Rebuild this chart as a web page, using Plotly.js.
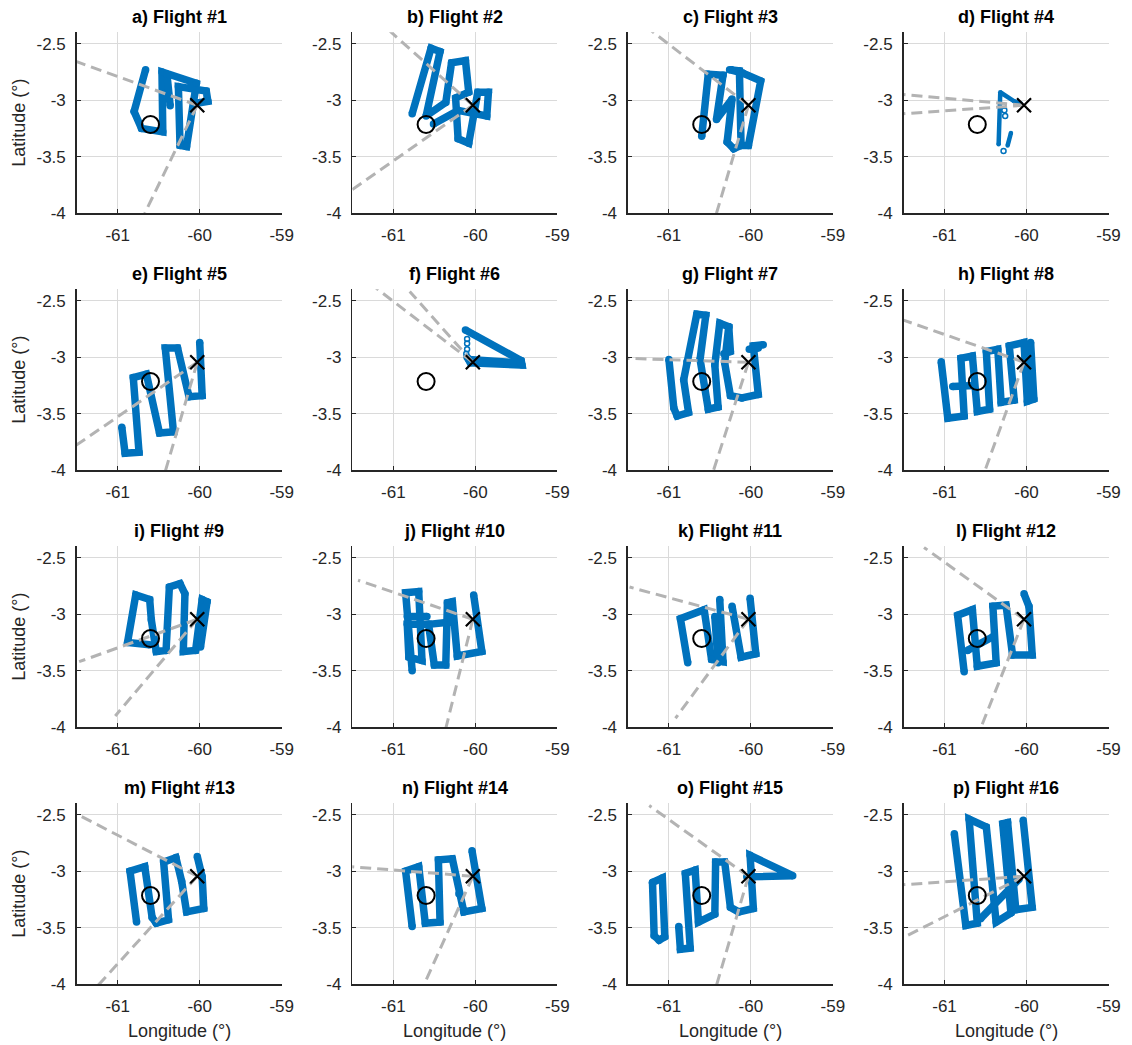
<!DOCTYPE html>
<html>
<head>
<meta charset="utf-8">
<script src="https://cdn.plot.ly/plotly-3.0.1.min.js"></script>
<style>
  html, body { margin: 0; padding: 0; background: #ffffff; }
  #chart { width: 1132px; height: 1045px; }
</style>
</head>
<body>
<div id="chart"></div>
<script>
// Aircraft tracks, longitude / latitude in degrees; null splits a track into pieces
const f1Lon = [-60.66, -60.80, -60.71, -60.45, -60.46, -60.04, -60.16, -60.24, -60.26, -59.92, -59.90, -60.06, null, -60.40, -60.36];
const f1Lat = [-2.73, -3.10, -3.25, -3.28, -2.75, -2.85, -3.41, -3.40, -2.88, -2.92, -3.01, -3.03, null, -2.77, -3.05];

const f2Lon = [-60.77, -60.54, -60.43, -60.60, -60.36, -60.29, -60.12, -60.08, -60.24, -60.21, -60.08, -59.97, -59.84, -59.86, -60.21, -60.51];
const f2Lat = [-3.12, -2.54, -2.57, -3.14, -3.02, -2.67, -2.65, -2.93, -2.98, -3.34, -3.38, -2.93, -2.93, -3.14, -3.09, -3.21];

const f3Lon = [-60.60, -60.52, -60.34, -60.42, -60.23, -60.29, -60.21, -60.12, -60.14, -60.26, -60.10, -59.88, -60.03, -60.12];
const f3Lat = [-3.32, -2.77, -2.78, -3.17, -2.99, -3.37, -3.43, -3.40, -2.74, -2.73, -2.76, -2.83, -3.40, -3.40];

const f4Lon = [-60.34, -60.32, -60.15, -60.07, null, -60.19, -60.23];
const f4Lat = [-3.39, -2.93, -3.01, -3.03, null, -3.29, -3.40];
const f4DotLon = [-60.28, -60.27, -60.26, -60.28];
const f4DotLat = [-3.05, -3.09, -3.14, -3.45];

const f5Lon = [-60.95, -60.91, -60.74, -60.81, -60.65, -60.49, -60.32, -60.42, -60.27, -60.13, -59.97, -60.00];
const f5Lat = [-3.62, -3.85, -3.84, -3.18, -3.15, -3.67, -3.66, -2.92, -2.92, -3.35, -3.34, -2.87];

const f6Lon = [-60.12, -59.44, -59.43, -60.06, -60.10, null, -60.08, -59.45];
const f6Lat = [-2.76, -3.03, -3.07, -3.05, -3.00, null, -3.02, -3.05];
const f6DotLon = [-60.10, -60.10, -60.10, -60.11];
const f6DotLat = [-2.84, -2.88, -2.93, -2.97];

const f7Lon = [-61.00, -60.94, -60.90, -60.76, -60.82, -60.78, -60.66, -60.55, -60.62, -60.52, -60.40, -60.44, -60.38, -60.27, -60.32, -60.25, -60.11, -59.91, -59.97, -59.85, null, -60.27, -60.25, -60.33, null, -60.02, -59.91];
const f7Lat = [-3.02, -3.45, -3.52, -3.49, -3.20, -3.04, -2.62, -2.63, -3.02, -3.46, -3.44, -3.07, -2.70, -2.73, -3.05, -3.34, -3.36, -3.33, -2.90, -2.89, null, -2.73, -2.95, -2.97, null, -2.93, -2.92];

const f8Lon = [-61.04, -60.96, -60.76, -60.80, -60.66, -60.60, -60.45, -60.49, -60.35, -60.31, -60.15, -60.21, -60.03, -59.99, -59.91, -59.95, null, -60.90, -60.64];
const f8Lat = [-3.04, -3.54, -3.52, -3.01, -2.99, -3.48, -3.46, -2.95, -2.93, -3.40, -3.38, -2.90, -2.87, -3.39, -3.37, -2.87, null, -3.26, -3.25];

const f9Lon = [-60.61, -60.88, -60.78, -60.61, -60.59, -60.53, -60.41, -60.37, -60.24, -60.18, -60.20, -60.05, -59.97, -59.91, -59.99];
const f9Lat = [-3.27, -3.25, -2.83, -2.87, -3.05, -3.33, -3.32, -2.76, -2.73, -2.82, -3.33, -3.32, -2.87, -2.89, -3.29];

const f10Lon = [-60.77, -60.85, -60.69, -60.65, -60.81, -60.83, -60.57, -60.50, -60.36, -60.34, -60.28, -60.22, -59.92, -60.02, null, -60.83, -60.59, null, -60.57, -60.30];
const f10Lat = [-3.50, -2.81, -2.80, -3.41, -3.38, -3.09, -3.09, -3.45, -3.45, -2.90, -2.89, -3.37, -3.33, -2.83, null, -3.02, -3.02, null, -3.09, -3.07];

const f11Lon = [-60.77, -60.86, -60.57, -60.48, -60.34, -60.38, null, -60.44, -60.40, null, -60.23, -60.12, -59.94, -60.01];
const f11Lat = [-3.43, -3.04, -2.96, -3.40, -3.42, -2.87, null, -3.02, -3.43, null, -2.93, -3.38, -3.35, -2.86];

const f12Lon = [-60.76, -60.84, -60.66, -60.60, -60.37, -60.41, -60.25, -60.17, -59.93, -59.97, -60.03, null, -60.72, -60.41];
const f12Lat = [-3.51, -3.01, -2.96, -3.46, -3.43, -2.93, -2.92, -3.36, -3.36, -2.93, -2.82, null, -3.32, -3.20];

const f13Lon = [-60.77, -60.85, -60.67, -60.58, -60.53, -60.38, -60.44, -60.29, -60.22, -60.16, -59.95, -59.97, -60.03];
const f13Lat = [-3.45, -3.00, -2.96, -3.41, -3.46, -3.43, -2.92, -2.88, -3.09, -3.36, -3.33, -3.05, -2.87];

const f14Lon = [-60.77, -60.85, -60.69, -60.61, -60.43, -60.45, -60.28, -60.20, -60.14, -59.92, -60.04];
const f14Lat = [-3.49, -3.00, -2.96, -3.46, -3.45, -2.90, -2.89, -3.20, -3.36, -3.33, -2.82];

const f15Lon = [-61.20, -61.08, -61.05, -61.12, -61.18, -61.20, null, -60.88, -60.86, -60.74, -60.80, -60.68, -60.64, -60.44, -60.43, -60.32, -60.25, -60.15, -59.97, -60.01, -59.49, -60.05];
const f15Lat = [-3.10, -3.06, -3.58, -3.61, -3.57, -3.10, null, -3.49, -3.69, -3.68, -3.02, -2.99, -3.45, -3.38, -2.92, -2.92, -3.32, -3.36, -3.33, -2.86, -3.04, -3.05];

const f16Lon = [-60.88, -60.74, -60.60, -60.70, -60.49, -60.37, -60.19, -60.29, -60.23, -60.13, -59.93, -60.04, null, -60.56, -60.09];
const f16Lat = [-2.67, -3.48, -3.46, -2.54, -2.61, -3.45, -3.37, -2.58, -2.57, -3.34, -3.32, -2.55, null, -3.42, -3.07];

const trackLon = [f1Lon, f2Lon, f3Lon, f4Lon, f5Lon, f6Lon, f7Lon, f8Lon, f9Lon, f10Lon, f11Lon, f12Lon, f13Lon, f14Lon, f15Lon, f16Lon];
const trackLat = [f1Lat, f2Lat, f3Lat, f4Lat, f5Lat, f6Lat, f7Lat, f8Lat, f9Lat, f10Lat, f11Lat, f12Lat, f13Lat, f14Lat, f15Lat, f16Lat];

const panelTitles = ['a) Flight #1', 'b) Flight #2', 'c) Flight #3', 'd) Flight #4',
                     'e) Flight #5', 'f) Flight #6', 'g) Flight #7', 'h) Flight #8',
                     'i) Flight #9', 'j) Flight #10', 'k) Flight #11', 'l) Flight #12',
                     'm) Flight #13', 'n) Flight #14', 'o) Flight #15', 'p) Flight #16'];

// Far ends of the two dashed direction lines that leave the city marker
const dirALon = [-61.50, -61.04, -61.21, -61.50, -61.55, -61.21, -61.52, -61.51, -61.47, -61.43, -61.48, -61.25, -61.54, -61.52, -61.24, -61.51];
const dirALat = [-2.66, -2.39, -2.39, -2.95, -3.80, -2.39, -3.01, -2.67, -3.42, -2.70, -2.76, -2.41, -2.48, -2.96, -2.42, -3.12];
const dirBLon = [-60.67, -61.50, -60.42, -61.50, -60.42, -60.80, -60.46, -60.51, -61.03, -60.36, -60.92, -60.56, -61.24, -60.63, -60.42, -61.51];
const dirBLat = [-4.00, -3.79, -4.00, -3.12, -4.01, -2.42, -4.01, -4.01, -3.90, -4.01, -3.92, -4.01, -4.01, -4.01, -4.01, -3.59];

// Reference sites: city (cross) and downwind ground site (circle)
const cityLon = [-60.03];
const cityLat = [-3.045];
const siteLon = [-60.60];
const siteLat = [-3.215];

const lonTicks = [-61, -60, -59];
const lonTickText = ['-61', '-60', '-59'];
const latTicks = [-4, -3.5, -3, -2.5];
const latTickText = ['-4', '-3.5', '-3', '-2.5'];

// ---- layout geometry (pixels) ----
const W = 1132, H = 1045;
const colLeft = [76.7, 352.3, 627.9, 903.5];
const rowTop = [32.3, 289.3, 546.3, 803.3];
const plotW = 205, plotH = 181;

const FONT = 'Liberation Sans, Arial, Helvetica, sans-serif';
const BLUE = '#0072BD';
const traces = [];
const layout = {
  width: W, height: H, autosize: false,
  margin: { l: 0, r: 0, t: 0, b: 0, pad: 0 },
  paper_bgcolor: '#ffffff', plot_bgcolor: '#ffffff',
  showlegend: false,
  font: { family: FONT, size: 17, color: '#262626' },
  annotations: []
};

for (let i = 0; i < 16; i++) {
  const r = Math.floor(i / 4), c = i % 4;
  const n = i + 1;
  const xa = n === 1 ? 'x' : 'x' + n;
  const ya = n === 1 ? 'y' : 'y' + n;
  const xKey = n === 1 ? 'xaxis' : 'xaxis' + n;
  const yKey = n === 1 ? 'yaxis' : 'yaxis' + n;

  layout[xKey] = {
    domain: [colLeft[c] / W, (colLeft[c] + plotW) / W],
    anchor: ya, range: [-61.5, -59], fixedrange: true,
    tickmode: 'array', tickvals: lonTicks, ticktext: lonTickText,
    ticks: 'inside', ticklen: 4, tickwidth: 1, tickcolor: '#262626',
    showgrid: true, gridcolor: '#dadada', gridwidth: 1,
    showline: true, linecolor: '#262626', linewidth: 1.5, mirror: false,
    zeroline: false, ticklabelstandoff: 6,
    tickfont: { family: FONT, size: 17, color: '#262626' }
  };
  layout[yKey] = {
    domain: [1 - (rowTop[r] + plotH) / H, 1 - rowTop[r] / H],
    anchor: xa, range: [-4, -2.4], fixedrange: true,
    tickmode: 'array', tickvals: latTicks, ticktext: latTickText,
    ticks: 'inside', ticklen: 4, tickwidth: 1, tickcolor: '#262626',
    showgrid: true, gridcolor: '#dadada', gridwidth: 1,
    showline: true, linecolor: '#262626', linewidth: 1.5, mirror: false,
    zeroline: false, ticklabelstandoff: 6,
    tickfont: { family: FONT, size: 17, color: '#262626' }
  };

  const w = (i === 3) ? 4.5 : 7.5;
  traces.push({
    type: 'scatter', mode: 'lines+markers', xaxis: xa, yaxis: ya,
    x: trackLon[i], y: trackLat[i], connectgaps: false,
    line: { color: BLUE, width: w },
    marker: { color: BLUE, size: w },
    hoverinfo: 'skip'
  });

  if (i === 3 || i === 5) {
    traces.push({
      type: 'scatter', mode: 'markers', xaxis: xa, yaxis: ya,
      x: i === 3 ? f4DotLon : f6DotLon, y: i === 3 ? f4DotLat : f6DotLat,
      marker: { symbol: 'circle-open', size: 5, color: BLUE, line: { width: 1.5, color: BLUE } },
      hoverinfo: 'skip'
    });
  }

  // dashed direction lines
  [[dirALon[i], dirALat[i]], [dirBLon[i], dirBLat[i]]].forEach(p => {
    traces.push({
      type: 'scatter', mode: 'lines', xaxis: xa, yaxis: ya,
      x: [cityLon[0], p[0]], y: [cityLat[0], p[1]],
      line: { color: '#b3b3b3', width: 3, dash: '11px,6px' },
      hoverinfo: 'skip'
    });
  });

  traces.push({
    type: 'scatter', mode: 'markers', xaxis: xa, yaxis: ya,
    x: siteLon, y: siteLat,
    marker: { symbol: 'circle-open', size: 17, color: '#000000', line: { width: 2, color: '#000000' } },
    hoverinfo: 'skip'
  });
  traces.push({
    type: 'scatter', mode: 'markers', xaxis: xa, yaxis: ya,
    x: cityLon, y: cityLat,
    marker: { symbol: 'x-thin-open', size: 14, color: '#000000', line: { width: 2.2, color: '#000000' } },
    hoverinfo: 'skip'
  });

  layout.annotations.push({
    xref: 'paper', yref: 'paper',
    x: (colLeft[c] + plotW / 2) / W, y: 1 - (rowTop[r] - 15.5) / H,
    xanchor: 'center', yanchor: 'middle', showarrow: false,
    text: '<b>' + panelTitles[i] + '</b>',
    font: { family: FONT, size: 18, color: '#000000' }
  });

  if (c === 0) {
    layout.annotations.push({
      xref: 'paper', yref: 'paper',
      x: 19 / W, y: 1 - (rowTop[r] + plotH / 2) / H,
      xanchor: 'center', yanchor: 'middle', showarrow: false, textangle: -90,
      text: 'Latitude (°)',
      font: { family: FONT, size: 18, color: '#262626' }
    });
  }
  if (r === 3) {
    layout.annotations.push({
      xref: 'paper', yref: 'paper',
      x: (colLeft[c] + plotW / 2) / W, y: 1 - 1031 / H,
      xanchor: 'center', yanchor: 'middle', showarrow: false,
      text: 'Longitude (°)',
      font: { family: FONT, size: 18, color: '#262626' }
    });
  }
}

Plotly.newPlot('chart', traces, layout, { staticPlot: true, displayModeBar: false });
</script>
</body>
</html>
